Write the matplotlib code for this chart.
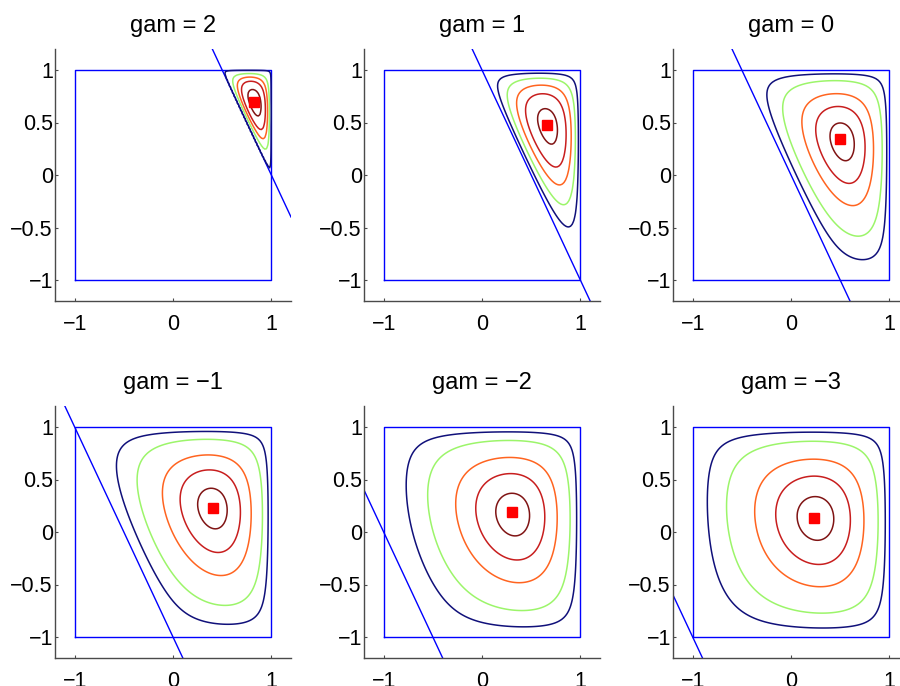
import numpy as np
import matplotlib.pyplot as plt

plt.rcParams['font.family'] = ['Liberation Sans', 'DejaVu Sans']
plt.rcParams['axes.unicode_minus'] = True

# constraint offsets, one panel each:  2x + y >= gam
gams = [2, 1, 0, -1, -2, -3]
# red squares
center_x = [0.82, 0.66, 0.50, 0.41, 0.30, 0.23]
center_y = [0.70, 0.48, 0.34, 0.23, 0.19, 0.13]
# contour levels per panel, as fraction of the peak
levels = [
    [0.02, 0.24, 0.44, 0.63, 0.88],
    [0.13, 0.31, 0.52, 0.72, 0.93],
    [0.12, 0.31, 0.60, 0.80, 0.95],
    [0.12, 0.31, 0.61, 0.81, 0.953],
    [0.12, 0.31, 0.61, 0.81, 0.953],
    [0.12, 0.31, 0.61, 0.81, 0.953],
]
level_colors = ['#10107a', '#9cf56a', '#ff6420', '#c81e1e', '#801414']
xticks = [-1, 0, 1]
yticks = [-1, -0.5, 0, 0.5, 1]

W, H = 900, 686
# axes boxes in pixels
col_left = [55, 364, 673]
row_top = [49, 406]
ax_w, ax_h = 236, 252


def barrier_density(gam, n=121):
    g = np.linspace(-1, 1, n)
    X, Y = np.meshgrid(g, g)
    s = 2 * X + Y - gam
    F = (1 - X**2) * (1 - Y**2) * s
    F[(s <= 0) | (np.abs(X) >= 1) | (np.abs(Y) >= 1)] = 0
    return X, Y, F / F.max()


fig = plt.figure(figsize=(W / 100, H / 100), dpi=100)

for i, gam in enumerate(gams):
    r, c = divmod(i, 3)
    l, t = col_left[c], row_top[r]
    ax = fig.add_axes([l / W, 1 - (t + ax_h) / H, ax_w / W, ax_h / H])

    ax.plot([-1, 1, 1, -1, -1], [-1, -1, 1, 1, -1], color='#0000ff', lw=1)
    xl = np.array([-1.2, 1.2])
    ax.plot(xl, gam - 2 * xl, color='#0000ff', lw=1)

    X, Y, F = barrier_density(gam)
    ax.contour(X, Y, F, levels=levels[i], colors=level_colors, linewidths=1.1)
    ax.plot(center_x[i], center_y[i], 's', color='red', ms=6.5, mec='red')

    ax.set_xlim(-1.2, 1.2)
    ax.set_ylim(-1.2, 1.2)
    ax.set_xticks(xticks)
    ax.set_yticks(yticks)
    ax.set_xticklabels(['\u22121', '0', '1'])
    ax.set_yticklabels(['\u22121', '\u22120.5', '0', '0.5', '1'])
    for side in ['top', 'right']:
        ax.spines[side].set_visible(False)
    for side in ['left', 'bottom']:
        ax.spines[side].set_color('#4a4a4a')
        ax.spines[side].set_linewidth(1)
    ax.tick_params(direction='in', length=2, color='#4a4a4a', labelsize=15.5)
    ax.tick_params(axis='x', pad=9.5)
    ax.tick_params(axis='y', pad=1.5)
    ax.set_title('gam = ' + str(gam).replace('-', '\u2212'), fontsize=17, pad=12)

fig.savefig('out.png', dpi=100)
